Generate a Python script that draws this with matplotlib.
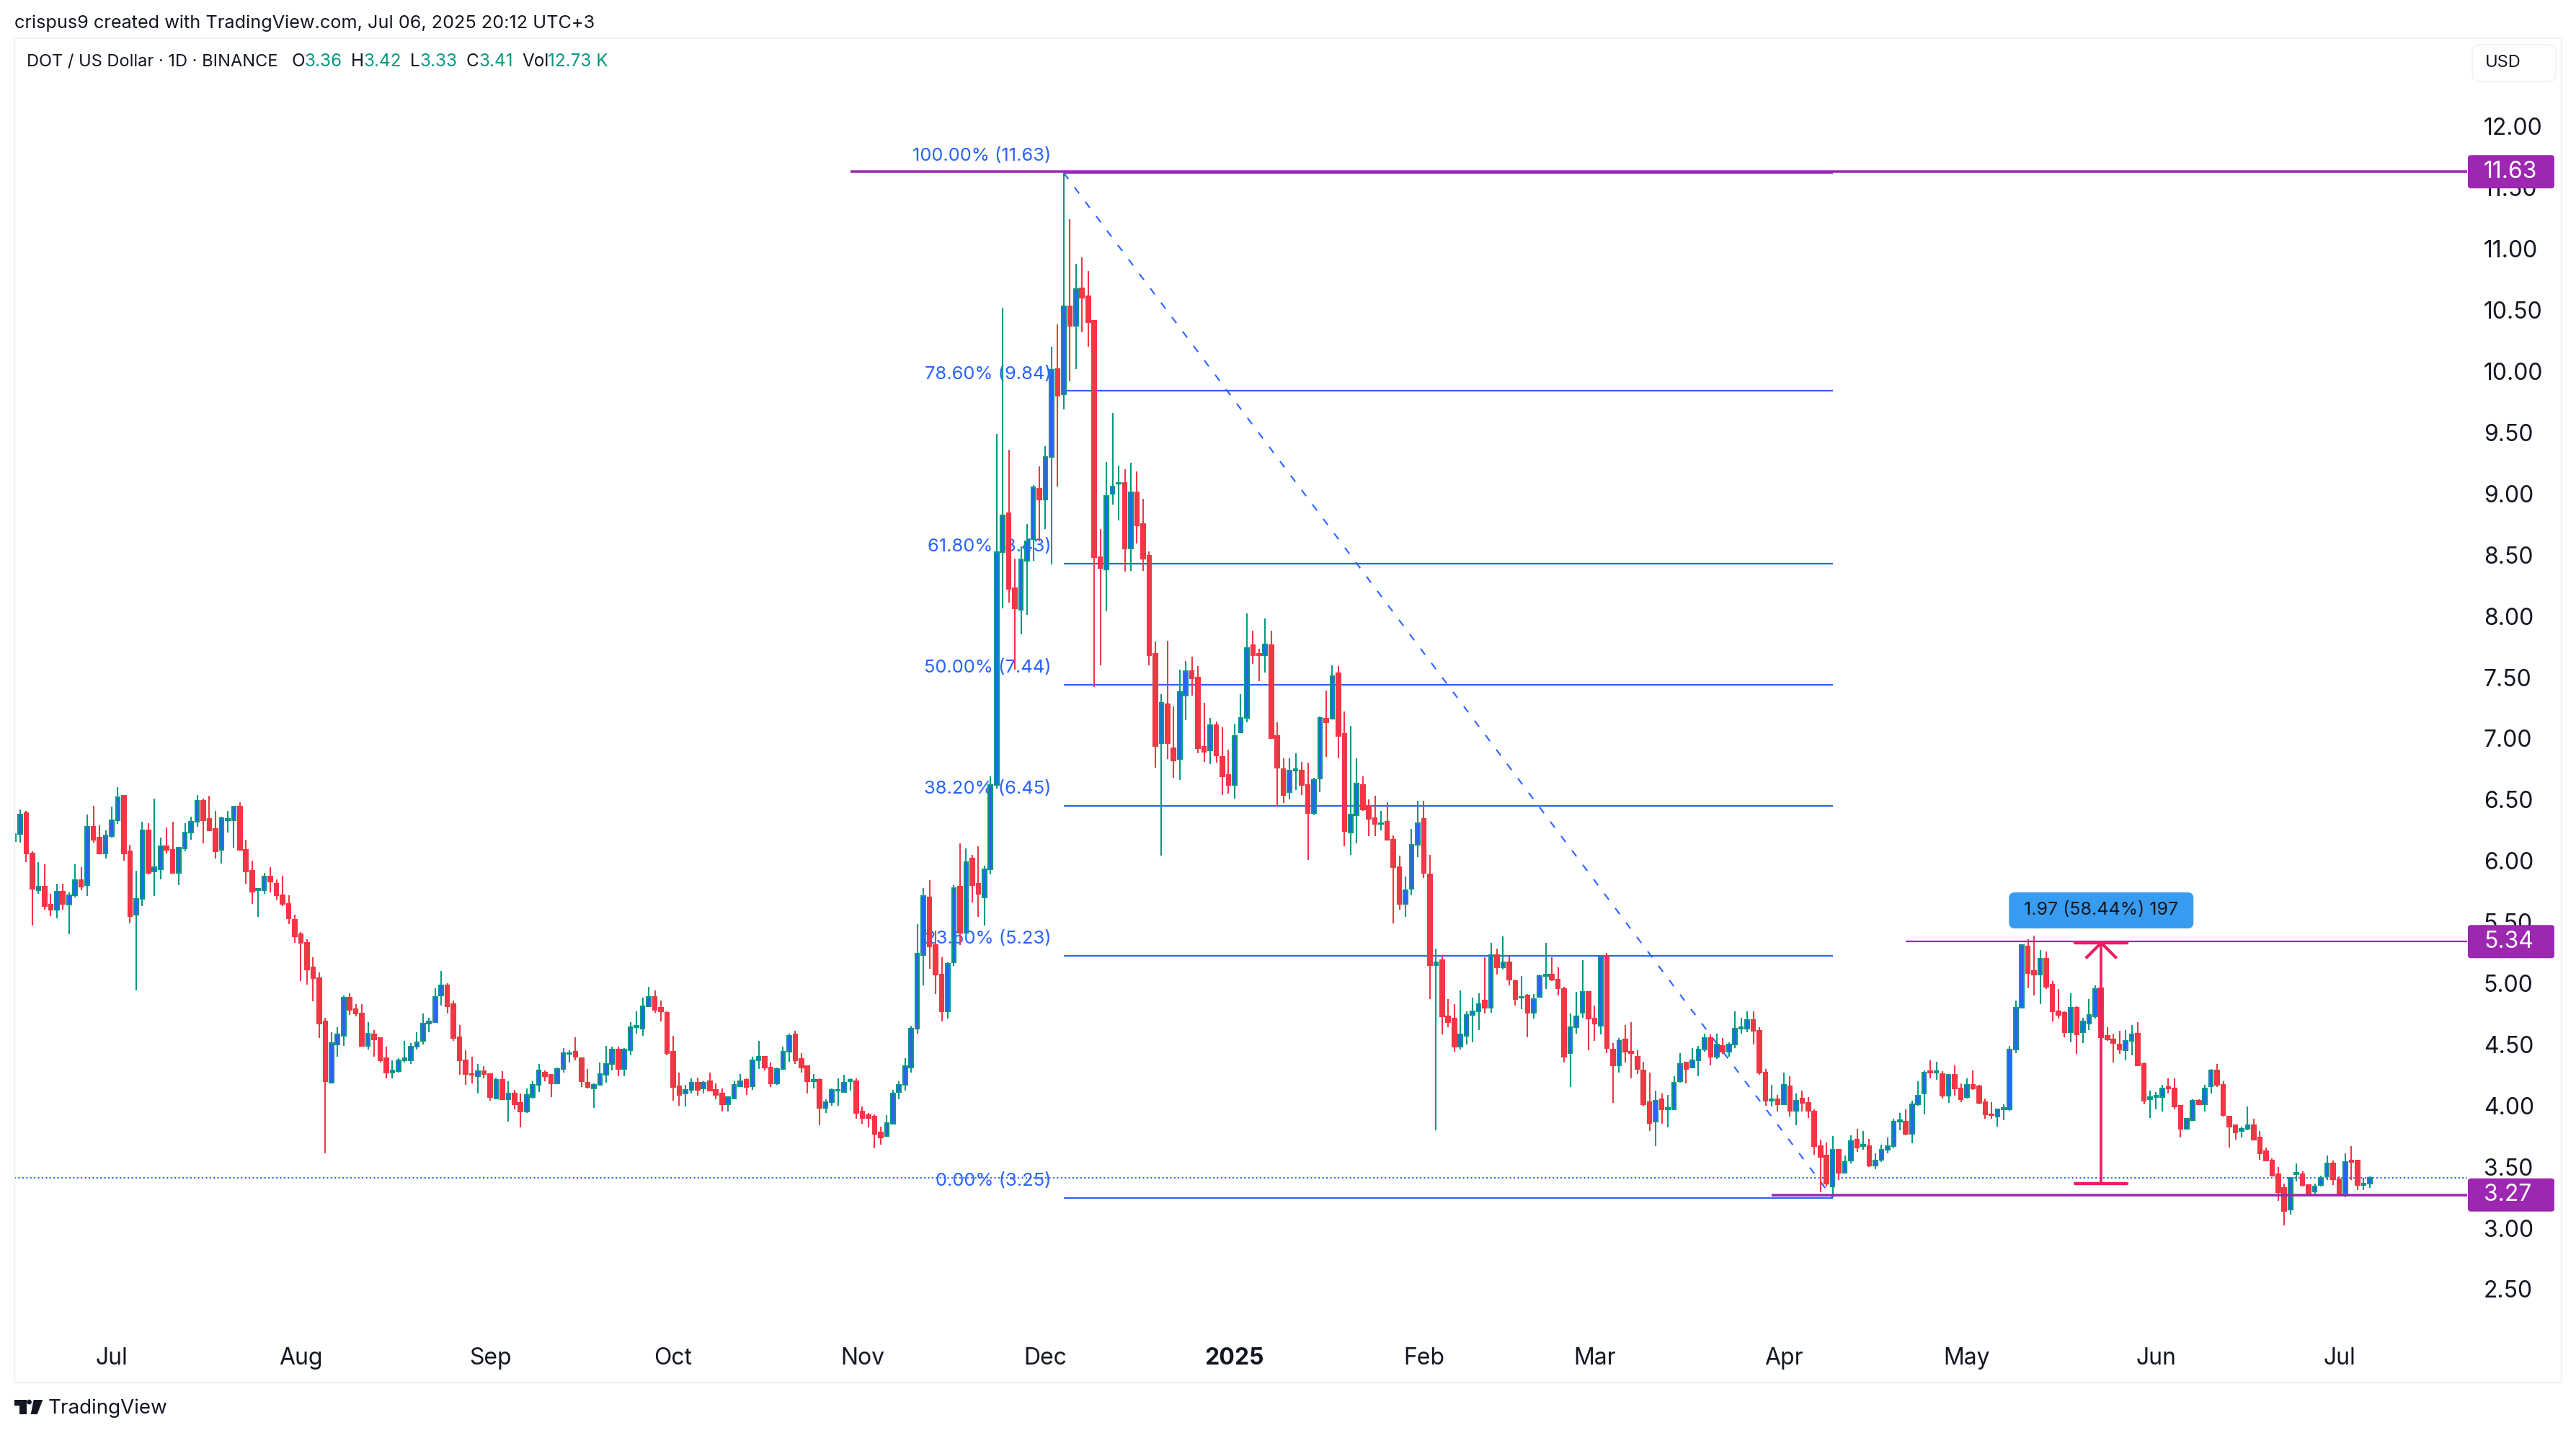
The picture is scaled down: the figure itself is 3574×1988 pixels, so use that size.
import matplotlib
matplotlib.use("Agg")
import matplotlib.pyplot as plt
import pandas as pd
from matplotlib.patches import FancyBboxPatch, Polygon, Circle, Rectangle
from matplotlib.transforms import IdentityTransform

opens = [
6.16,6.22,6.39,6.06,5.76,5.79,5.64,5.60,5.75,5.64,
5.72,5.84,5.80,6.28,6.19,6.06,6.20,6.33,6.53,6.08,
5.56,5.69,6.25,5.91,5.93,6.12,6.09,5.90,6.10,6.23,
6.32,6.49,6.34,6.26,6.09,6.33,6.33,6.44,6.09,5.92,
5.76,5.76,5.87,5.81,5.72,5.65,5.52,5.40,5.33,5.13,
5.04,4.69,4.19,4.50,4.57,4.88,4.79,4.75,4.49,4.58,
4.55,4.39,4.27,4.28,4.37,4.37,4.48,4.53,4.67,4.68,
4.90,4.98,4.83,4.56,4.37,4.26,4.24,4.28,4.26,4.06,
4.21,4.05,4.10,4.02,3.95,4.07,4.17,4.27,4.25,4.18,
4.30,4.42,4.44,4.39,4.19,4.14,4.17,4.25,4.34,4.46,
4.30,4.45,4.64,4.63,4.81,4.89,4.80,4.76,4.44,4.16,
4.10,4.13,4.19,4.14,4.20,4.13,4.10,4.01,4.06,4.16,
4.21,4.16,4.37,4.40,4.31,4.18,4.30,4.44,4.58,4.38,
4.32,4.20,4.21,3.98,4.03,4.12,4.11,4.20,4.20,3.95,
3.92,3.91,3.78,3.75,3.85,4.11,4.17,4.31,4.63,5.23,
5.70,5.31,5.07,4.77,5.17,5.79,5.41,6.02,5.81,5.70,
5.93,6.62,8.52,8.84,8.23,8.05,8.45,8.63,9.04,8.95,
9.30,10.02,9.81,10.53,10.37,10.68,10.61,10.41,8.48,8.38,
9.00,9.08,9.09,8.55,9.01,8.75,8.49,7.69,6.96,7.28,
6.92,6.83,7.35,7.55,7.50,6.93,6.90,7.11,6.85,6.70,
6.62,7.05,7.17,7.76,7.69,7.68,7.76,7.02,6.75,6.56,
6.74,6.74,6.62,6.39,6.67,7.16,7.16,7.53,7.04,6.23,
6.37,6.62,6.45,6.35,6.30,6.32,6.17,5.95,5.65,5.77,
6.13,6.34,5.89,5.15,5.19,4.73,4.71,4.48,4.57,4.74,
4.77,4.86,4.80,5.23,5.13,5.17,5.02,4.88,4.90,4.76,
4.89,5.06,5.07,5.03,4.95,4.43,4.64,4.76,4.93,4.71,
4.65,5.22,4.46,4.33,4.54,4.44,4.40,4.29,4.03,3.87,
4.05,3.97,3.97,4.20,4.35,4.31,4.37,4.46,4.55,4.40,
4.49,4.44,4.50,4.63,4.63,4.70,4.61,4.27,4.04,4.05,
4.01,4.16,3.96,4.06,4.02,3.95,3.67,3.59,3.34,3.64,
3.45,3.55,3.72,3.67,3.67,3.51,3.56,3.64,3.67,3.87,
3.87,3.77,4.01,4.10,4.28,4.27,4.26,4.08,4.25,4.14,
4.07,4.17,4.16,4.03,3.93,3.91,3.97,3.97,4.46,4.80,
5.30,5.10,5.07,5.20,4.99,4.77,4.76,4.60,4.80,4.60,
4.67,4.73,4.96,4.57,4.54,4.50,4.45,4.53,4.59,4.34,
4.05,4.07,4.07,4.15,4.14,4.00,3.81,3.88,4.04,4.01,
4.16,4.29,4.17,3.91,3.84,3.79,3.81,3.84,3.74,3.63,
3.55,3.44,3.33,3.15,3.44,3.44,3.35,3.30,3.35,3.42,
3.53,3.40,3.28,3.55,3.55,3.35,3.36]

highs = [
6.22,6.42,6.41,6.08,5.99,5.97,5.73,5.81,5.81,5.74,
5.97,5.95,6.38,6.45,6.29,6.25,6.44,6.60,6.53,6.13,
5.92,6.32,6.31,6.51,6.19,6.27,6.32,6.11,6.31,6.36,
6.54,6.51,6.53,6.41,6.36,6.41,6.44,6.48,6.17,6.00,
5.78,5.90,5.95,5.85,5.88,5.72,5.56,5.42,5.36,5.21,
5.09,4.72,4.60,4.64,4.90,4.92,4.83,4.83,4.68,4.62,
4.56,4.48,4.37,4.39,4.53,4.51,4.60,4.75,4.72,4.96,
5.10,5.00,4.86,4.66,4.45,4.40,4.34,4.32,4.26,4.23,
4.28,4.20,4.13,4.10,4.14,4.20,4.34,4.29,4.26,4.31,
4.47,4.45,4.56,4.39,4.30,4.18,4.35,4.49,4.48,4.48,
4.47,4.68,4.77,4.88,4.97,4.94,4.86,4.77,4.57,4.27,
4.17,4.22,4.23,4.20,4.27,4.18,4.14,4.07,4.20,4.26,
4.22,4.40,4.53,4.40,4.35,4.31,4.48,4.59,4.61,4.43,
4.33,4.26,4.22,4.05,4.14,4.22,4.25,4.22,4.22,3.99,
3.94,3.93,3.83,3.92,4.13,4.20,4.39,4.65,5.48,5.78,
5.84,5.43,5.21,5.17,5.80,6.14,6.10,6.05,6.12,5.96,
6.69,9.49,10.52,9.36,8.47,8.57,8.75,9.07,9.22,9.39,
10.20,10.38,11.63,11.24,10.88,10.93,10.82,10.41,8.71,9.26,
9.66,9.23,9.20,9.25,9.18,8.96,8.53,7.79,7.36,7.80,
7.26,7.56,7.63,7.67,7.59,7.29,7.17,7.14,7.09,6.91,
7.12,7.36,8.02,7.88,7.73,7.98,7.88,7.13,6.84,6.84,
6.88,6.81,6.80,6.68,7.18,7.39,7.60,7.59,7.22,7.10,
6.84,6.69,6.50,6.53,6.41,6.48,6.21,6.04,5.87,6.26,
6.49,6.49,6.05,5.28,5.23,4.87,4.83,4.94,4.77,4.88,
4.92,5.21,5.33,5.28,5.38,5.22,5.03,5.06,4.91,4.91,
5.07,5.33,5.21,5.13,4.97,4.75,4.93,5.19,4.93,4.82,
5.23,5.25,4.51,4.55,4.66,4.68,4.45,4.36,4.27,4.12,
4.10,4.09,4.24,4.43,4.36,4.47,4.49,4.59,4.58,4.59,
4.55,4.52,4.77,4.72,4.77,4.77,4.64,4.30,4.17,4.09,
4.27,4.24,4.10,4.12,4.07,3.97,3.72,3.70,3.75,3.64,
3.59,3.76,3.81,3.79,3.73,3.61,3.68,3.74,3.89,3.94,
3.97,4.04,4.20,4.29,4.37,4.36,4.28,4.26,4.33,4.18,
4.22,4.29,4.17,4.06,4.03,3.97,4.01,4.49,4.86,5.32,
5.36,5.39,5.27,5.26,5.02,4.95,4.77,4.92,4.81,4.72,
4.87,4.98,4.96,4.64,4.59,4.61,4.62,4.66,4.68,4.35,
4.12,4.11,4.17,4.22,4.22,4.00,3.89,4.05,4.05,4.17,
4.30,4.34,4.20,3.91,3.84,3.83,3.99,3.89,3.79,3.66,
3.57,3.50,3.36,3.41,3.53,3.46,3.35,3.36,3.43,3.59,
3.55,3.42,3.61,3.67,3.56,3.41,3.42]

lows = [
6.16,6.15,5.99,5.47,5.73,5.60,5.55,5.53,5.60,5.40,
5.70,5.76,5.71,6.15,6.06,6.02,6.19,6.30,6.00,5.49,
4.94,5.63,5.89,5.71,5.85,6.06,5.90,5.80,6.08,6.17,
6.28,6.14,6.25,6.02,5.98,6.23,6.11,6.09,5.81,5.65,
5.54,5.73,5.74,5.68,5.63,5.48,5.33,5.02,4.99,4.85,
4.55,3.61,4.19,4.40,4.49,4.74,4.73,4.48,4.46,4.40,
4.35,4.22,4.22,4.27,4.35,4.34,4.46,4.50,4.60,4.68,
4.82,4.75,4.53,4.25,4.17,4.18,4.10,4.22,4.04,4.06,
4.05,3.87,3.97,3.82,3.94,4.06,4.11,4.20,4.07,4.18,
4.27,4.35,4.37,4.15,4.14,3.98,4.17,4.19,4.29,4.24,
4.24,4.41,4.59,4.57,4.81,4.76,4.69,4.41,4.04,4.00,
3.99,4.10,4.08,4.10,4.12,4.05,3.95,3.95,4.05,4.15,
4.09,4.13,4.30,4.29,4.15,4.17,4.30,4.36,4.34,4.27,
4.10,4.14,3.84,3.94,4.00,4.00,4.11,4.12,3.89,3.85,
3.82,3.65,3.68,3.75,3.85,4.05,4.12,4.27,4.59,4.98,
5.12,4.91,4.69,4.71,5.14,5.31,5.41,5.66,5.54,5.47,
5.89,6.59,8.06,8.11,7.56,7.85,8.01,8.45,8.61,8.71,
8.42,9.06,9.69,9.92,10.02,10.32,10.20,7.42,7.60,8.04,
8.91,8.78,8.36,8.37,8.59,8.37,7.60,6.76,6.04,6.83,
6.68,6.66,7.15,7.35,6.88,6.81,6.79,6.80,6.54,6.55,
6.51,7.05,7.13,7.61,7.47,7.54,7.00,6.44,6.47,6.50,
6.58,6.54,6.01,6.37,6.56,6.85,7.16,6.84,6.12,6.05,
6.14,6.41,6.20,6.20,6.25,6.17,5.49,5.60,5.54,5.72,
6.03,5.86,4.87,3.80,4.58,4.64,4.44,4.46,4.50,4.52,
4.62,4.75,4.76,5.07,5.11,4.98,4.82,4.79,4.56,4.71,
4.88,4.95,5.02,4.90,4.35,4.15,4.59,4.72,4.45,4.53,
4.58,4.43,4.02,4.27,4.35,4.22,4.26,3.99,3.79,3.67,
3.85,3.82,3.97,4.19,4.18,4.31,4.24,4.44,4.33,4.38,
4.42,4.40,4.47,4.59,4.60,4.50,4.25,4.00,3.99,3.95,
4.01,3.91,3.84,3.95,3.90,3.60,3.29,3.34,3.25,3.39,
3.45,3.53,3.62,3.64,3.50,3.48,3.54,3.61,3.65,3.80,
3.76,3.69,4.00,3.93,4.22,4.21,4.06,4.02,4.08,4.03,
4.06,4.13,4.01,3.89,3.89,3.83,3.88,3.96,4.43,4.80,
4.96,4.90,4.83,4.95,4.69,4.71,4.56,4.52,4.42,4.51,
4.62,4.71,4.49,4.53,4.35,4.42,4.37,4.41,4.33,4.01,
3.90,3.97,3.95,4.10,3.97,3.74,3.81,3.88,4.01,3.95,
4.10,4.15,3.91,3.66,3.72,3.74,3.80,3.72,3.56,3.55,
3.42,3.22,3.02,3.11,3.38,3.34,3.28,3.28,3.34,3.39,
3.35,3.26,3.25,3.39,3.31,3.31,3.33]

closes = [
6.22,6.38,6.06,5.77,5.79,5.63,5.60,5.75,5.65,5.72,
5.84,5.79,6.28,6.17,6.06,6.21,6.33,6.52,6.06,5.55,
5.69,6.25,5.90,5.95,6.12,6.09,5.90,6.11,6.23,6.32,
6.49,6.33,6.25,6.08,6.35,6.34,6.44,6.09,5.91,5.75,
5.77,5.87,5.83,5.72,5.65,5.53,5.38,5.33,5.11,5.04,
4.67,4.20,4.51,4.58,4.88,4.78,4.75,4.49,4.59,4.54,
4.37,4.27,4.29,4.37,4.39,4.48,4.52,4.67,4.69,4.89,
4.98,4.81,4.55,4.37,4.26,4.25,4.28,4.26,4.07,4.21,
4.05,4.10,4.01,3.95,4.09,4.17,4.29,4.24,4.18,4.30,
4.43,4.43,4.40,4.20,4.15,4.17,4.26,4.34,4.46,4.30,
4.46,4.64,4.65,4.81,4.89,4.78,4.77,4.43,4.15,4.09,
4.13,4.19,4.13,4.19,4.12,4.09,4.01,4.07,4.17,4.20,
4.15,4.37,4.40,4.31,4.18,4.30,4.44,4.57,4.37,4.31,
4.20,4.21,3.98,4.03,4.13,4.13,4.19,4.21,3.94,3.90,
3.90,3.77,3.74,3.86,4.10,4.17,4.32,4.63,5.24,5.71,
5.30,5.07,4.77,5.16,5.78,5.41,5.99,5.80,5.73,5.93,
6.62,8.52,8.82,8.22,8.06,8.46,8.61,9.05,8.95,9.30,
10.01,9.80,10.53,10.37,10.67,10.60,10.40,8.48,8.39,8.98,
9.06,9.09,8.55,9.01,8.74,8.47,7.68,6.94,7.29,6.96,
6.82,7.38,7.55,7.49,6.92,6.89,7.11,6.86,6.69,6.62,
7.02,7.17,7.74,7.68,7.68,7.77,7.00,6.76,6.54,6.74,
6.75,6.62,6.39,6.66,7.17,7.13,7.51,7.02,6.24,6.38,
6.63,6.42,6.34,6.30,6.31,6.17,5.95,5.65,5.76,6.13,
6.31,5.90,5.15,5.17,4.73,4.68,4.48,4.58,4.74,4.77,
4.83,4.80,5.23,5.13,5.17,5.03,4.87,4.89,4.76,4.87,
5.06,5.07,5.03,4.96,4.40,4.64,4.73,4.93,4.71,4.67,
5.21,4.47,4.33,4.53,4.44,4.43,4.30,4.01,3.86,4.04,
3.97,3.98,4.19,4.34,4.30,4.37,4.46,4.55,4.40,4.50,
4.44,4.50,4.63,4.64,4.70,4.61,4.27,4.04,4.05,4.01,
4.17,3.96,4.04,4.02,3.96,3.67,3.58,3.36,3.64,3.45,
3.54,3.71,3.66,3.68,3.51,3.55,3.64,3.67,3.87,3.88,
3.77,4.01,4.08,4.27,4.27,4.28,4.08,4.25,4.14,4.05,
4.17,4.14,4.02,3.93,3.92,3.97,3.98,4.46,4.80,5.31,
5.08,5.07,5.20,4.97,4.77,4.74,4.60,4.80,4.58,4.69,
4.74,4.95,4.56,4.54,4.51,4.46,4.53,4.58,4.33,4.04,
4.07,4.08,4.14,4.14,3.99,3.81,3.89,4.04,4.01,4.14,
4.29,4.17,3.92,3.83,3.78,3.81,3.84,3.72,3.61,3.55,
3.43,3.29,3.14,3.41,3.45,3.35,3.28,3.34,3.41,3.53,
3.40,3.27,3.54,3.54,3.35,3.36,3.41]

first_date = "2024-06-15"
origin = pd.Timestamp("2024-07-01")
month_dates = ["2024-07-01","2024-08-01","2024-09-01","2024-10-01","2024-11-01","2024-12-01",
               "2025-01-01","2025-02-01","2025-03-01","2025-04-01","2025-05-01","2025-06-01","2025-07-01"]
month_labels = ["Jul","Aug","Sep","Oct","Nov","Dec","2025","Feb","Mar","Apr","May","Jun","Jul"]
price_ticks = [2.5,3,3.5,4,4.5,5,5.5,6,6.5,7,7.5,8,8.5,9,9.5,10,10.5,11,11.5,12]

fib_pct = ["0.00%","23.60%","38.20%","50.00%","61.80%","78.60%","100.00%"]
fib_label_vals = ["3.25","5.23","6.45","7.44","8.43","9.84","11.63"]
fib_levels = [3.245,5.225,6.45,7.44,8.43,9.84,11.62]
fib_start = pd.Timestamp("2024-12-04")
fib_end = pd.Timestamp("2025-04-09")
last_price = 3.41
hlines = [(11.63, pd.Timestamp("2024-10-30"), 3.5), (5.34, pd.Timestamp("2025-04-21"), 2.2), (3.27, pd.Timestamp("2025-03-30"), 3.5)]
measure_date = pd.Timestamp("2025-05-23")
measure_low, measure_high = 3.365, 5.33

W, H = 3574, 1988
BLUE, GREEN, RED, PURPLE, CRIM, INK = "#2962ff", "#089981", "#f23645", "#9c27b0", "#e91e63", "#131722"
plt.rcParams["font.family"] = ["Inter", "DejaVu Sans"]

def n(v):
    return (v - origin).days

fig = plt.figure(figsize=(W / 100, H / 100), dpi=100, facecolor="white")
L, R, T, B = 20, 3423, 53, 1843
ax = fig.add_axes([L / W, 1 - B / H, (R - L) / W, (B - T) / H])
for s in ax.spines.values():
    s.set_visible(False)
ax.set_xlim((L - 155) / 8.467, (R - 155) / 8.467)
ax.set_ylim(3 - (B - 1703.6) / 169.8, 3 + (1703.6 - T) / 169.8)

dates = pd.date_range(first_date, periods=len(opens))
xs = [n(d) for d in dates]
px = 1 / 8.467
ups = [i for i in range(len(xs)) if closes[i] >= opens[i]]
downs = [i for i in range(len(xs)) if closes[i] < opens[i]]
for idx, face, edge in ((ups, BLUE, GREEN), (downs, RED, RED)):
    ax.vlines([xs[i] for i in idx], [lows[i] for i in idx], [highs[i] for i in idx], color=edge, lw=1.5, zorder=3)
    ax.bar([xs[i] for i in idx], [abs(closes[i] - opens[i]) for i in idx],
           bottom=[min(opens[i], closes[i]) for i in idx], width=5.6 * px,
           facecolor=face, edgecolor=edge, linewidth=1.5, zorder=3.2)

# Fibonacci retracement
x0, x1 = n(fib_start), n(fib_end)
for lvl, pct, val in zip(fib_levels, fib_pct, fib_label_vals):
    ax.plot([x0, x1], [lvl, lvl], color=BLUE, lw=1.6, zorder=2, solid_capstyle="butt")
    ax.annotate(f"{pct} ({val})", (x0, lvl), xytext=(-17, 23), textcoords="offset pixels",
                ha="right", va="center", fontsize=18.4, color=BLUE, zorder=2.2)
ax.plot([x0, x1], [fib_levels[-1], fib_levels[0]], color=BLUE, lw=1.5, ls=(0, (5, 7)), zorder=2)
ax.axhline(last_price, color=BLUE, lw=1.5, ls=(0, (1, 1.6)), zorder=2)

# Horizontal rays and their price labels
for price, start, lw_px in hlines:
    ax.plot([n(start), ax.get_xlim()[1]], [price, price], color=PURPLE, lw=lw_px * .72, zorder=4, solid_capstyle="butt")

# Measure tool
mx = n(measure_date)
cap = 36 * px
ax.plot([mx, mx], [measure_low, measure_high], color=CRIM, lw=2.6, zorder=5, solid_capstyle="butt")
ax.plot([mx - cap, mx + cap], [measure_low] * 2, color=CRIM, lw=3.2, zorder=5, solid_capstyle="round")
ax.plot([mx - cap, mx + cap], [measure_high] * 2, color=CRIM, lw=3.2, zorder=5, solid_capstyle="round")
ax.plot([mx - 20 * px, mx, mx + 20 * px], [measure_high - .118, measure_high, measure_high - .118],
        color=CRIM, lw=3, zorder=5, solid_joinstyle="miter")

# Axis ticks (labels sit inside the pane, no marks)
ax.yaxis.tick_right()
ax.set_yticks(price_ticks, [f"{v:.2f}" for v in price_ticks])
ax.tick_params(axis="y", length=0, pad=16.5, labelsize=23, labelcolor=INK)
for t in ax.get_yticklabels():
    t.set_ha("left")
tick_x = [n(pd.Timestamp(d)) for d in month_dates]
ax.set_xticks(tick_x, month_labels)
ax.tick_params(axis="x", length=0, pad=19, labelsize=23, labelcolor=INK)
for t, s in zip(ax.get_xticklabels(), month_labels):
    if s == "2025":
        t.set_fontweight("bold")

I = IdentityTransform()
def fy(y):
    return H - y
def ftext(x, y, s, **k):
    k.setdefault("va", "center")
    k.setdefault("color", INK)
    fig.text(x, fy(y), s, transform=I, zorder=12, **k)

fig.patches.append(Rectangle((L, fy(1918)), 3554 - L, 1918 - 53, transform=I, fc="none", ec="#f0f3fa", lw=1.6, zorder=0, figure=fig))

for price, _, _ in hlines:
    yc = ax.transData.transform((0, price))[1]
    box = FancyBboxPatch((3424, yc - 23), 120, 46, boxstyle="round,pad=0,rounding_size=4", transform=I,
                         fc=PURPLE, ec="none", zorder=10, figure=fig)
    fig.patches.append(box)
    fig.text(3446, yc, f"{price:.2f}", transform=I, color="white", fontsize=23, va="center", ha="left", zorder=12)

# Measure label
bx = ax.transData.transform((mx, 0))[0]
fig.patches.append(FancyBboxPatch((bx - 128, fy(1288)), 256, 50, boxstyle="round,pad=0,rounding_size=8", transform=I,
                                  fc="#379cf0", ec="none", zorder=10, figure=fig))
fig.text(bx, fy(1263), "1.97 (58.44%) 197", transform=I, color=INK, fontsize=18, ha="center", va="center", zorder=12)

# Header
ftext(20, 32, "crispus9 created with TradingView.com, Jul 06, 2025 20:12 UTC+3", fontsize=18.2)
ftext(37, 86, "DOT / US Dollar · 1D · BINANCE", fontsize=17)
for xk, k, xv, v in [(404, "O", 422, "3.36"), (487, "H", 504, "3.42"), (569, "L", 582, "3.33"), (647, "C", 664, "3.41"), (724, "Vol", 760, "12.73 K")]:
    ftext(xk, 86, k, fontsize=17.5)
    ftext(xv, 86, v, fontsize=17.5, color=GREEN)

# USD button
fig.patches.append(FancyBboxPatch((3430, fy(113)), 116, 51, boxstyle="round,pad=0,rounding_size=10", transform=I,
                                  fc="white", ec="#f0f3fa", lw=1.4, zorder=10, figure=fig))
ftext(3473, 87, "USD", fontsize=17, ha="center")

# TradingView logo
LOGO = "#131722"
fig.patches.append(Polygon([(20, fy(1942)), (36.7, fy(1942)), (36.7, fy(1962)), (27, fy(1962)), (27, fy(1950)), (20, fy(1950))], closed=True, transform=I, fc=LOGO, ec="none", zorder=10, figure=fig))
fig.patches.append(Circle((40.5, fy(1945)), 3.4, transform=I, fc=LOGO, ec="none", zorder=10, figure=fig))
fig.patches.append(Polygon([(46.7, fy(1942)), (59.3, fy(1942)), (51.7, fy(1962)), (42.7, fy(1962))], closed=True, transform=I, fc=LOGO, ec="none", zorder=10, figure=fig))
ftext(67, 1954, "TradingView", fontsize=20)

fig.savefig("out.png", dpi=100, facecolor="white")
